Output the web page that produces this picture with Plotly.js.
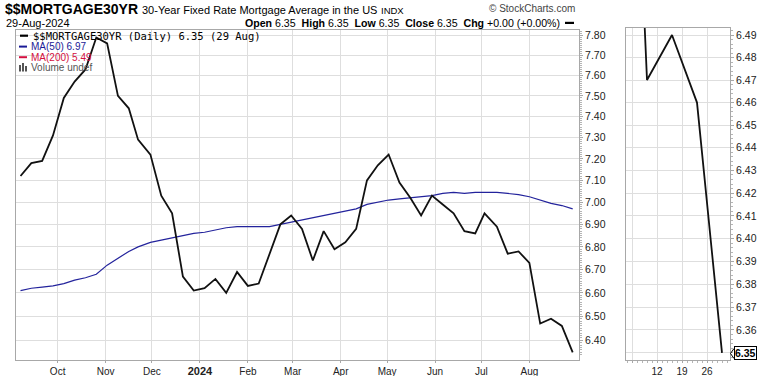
<!DOCTYPE html>
<html>
<head>
<meta charset="utf-8">
<script src="https://cdn.plot.ly/plotly-3.0.1.min.js"></script>
<style>html,body{margin:0;padding:0;background:#fff;}#chart{width:770px;height:376px;}</style>
</head>
<body>
<div id="chart"></div>
<script>
// ---- data ----
const weekDates = ['2023-09-07','2023-09-14','2023-09-21','2023-09-28','2023-10-05','2023-10-12','2023-10-19','2023-10-26',
 '2023-11-02','2023-11-09','2023-11-16','2023-11-22','2023-11-30','2023-12-07','2023-12-14','2023-12-21','2023-12-28',
 '2024-01-04','2024-01-11','2024-01-18','2024-01-25','2024-02-01','2024-02-08','2024-02-15','2024-02-22','2024-02-29',
 '2024-03-07','2024-03-14','2024-03-21','2024-03-28','2024-04-04','2024-04-11','2024-04-18','2024-04-25',
 '2024-05-02','2024-05-09','2024-05-16','2024-05-23','2024-05-30','2024-06-06','2024-06-13','2024-06-20','2024-06-27',
 '2024-07-03','2024-07-11','2024-07-18','2024-07-25','2024-08-01','2024-08-08','2024-08-15','2024-08-22','2024-08-29'];
const rate30yr = [7.12,7.18,7.19,7.31,7.49,7.57,7.63,7.79,
 7.76,7.50,7.44,7.29,7.22,7.03,6.95,6.67,6.61,
 6.62,6.66,6.60,6.69,6.63,6.64,6.77,6.90,6.94,
 6.88,6.74,6.87,6.79,6.82,6.88,7.10,7.17,
 7.22,7.09,7.02,6.94,7.03,6.99,6.95,6.87,6.86,
 6.95,6.89,6.77,6.78,6.73,6.47,6.49,6.46,6.35];
const ma50 = [6.61,6.62,6.625,6.63,6.64,6.655,6.665,6.68,
 6.72,6.75,6.78,6.80,6.82,6.83,6.84,6.85,6.86,
 6.865,6.875,6.885,6.89,6.89,6.89,6.89,6.90,6.91,
 6.92,6.93,6.94,6.95,6.96,6.97,6.99,7.00,
 7.01,7.015,7.02,7.025,7.03,7.04,7.045,7.04,7.045,
 7.045,7.045,7.04,7.035,7.025,7.01,6.995,6.985,6.97];
const monthTicks = ['2023-10-01','2023-11-01','2023-12-01','2024-01-01','2024-02-01','2024-03-01','2024-04-01','2024-05-01','2024-06-01','2024-07-01','2024-08-01'];
const monthLabels = ['Oct','Nov','Dec','<span style="font-weight:bold;font-size:11px">2024</span>','Feb','Mar','Apr','May','Jun','Jul','Aug'];
const yTicks = [6.40,6.50,6.60,6.70,6.80,6.90,7.00,7.10,7.20,7.30,7.40,7.50,7.60,7.70,7.80];
const zoomDayTicks = ['2024-08-05','2024-08-12','2024-08-19','2024-08-26'];
const zoomDayLabels = ['','12','19','26'];
const zoomYTicks = [6.35,6.36,6.37,6.38,6.39,6.40,6.41,6.42,6.43,6.44,6.45,6.46,6.47,6.48,6.49];
const lastValue = 6.35;

// ---- helpers ----
const W = 770, H = 376;
const px = x => x / W;
const py = y => 1 - y / H;
const minorMain = []; for (let i = 634; i <= 782; i++) minorMain.push(i / 100);
const minorZoom = []; for (let i = 6346; i <= 6494; i += 2) minorZoom.push(i / 1000);

const traces = [
  {x: weekDates, y: ma50, xaxis:'x', yaxis:'y', mode:'lines', line:{color:'#23239c', width:1.2}, hoverinfo:'skip'},
  {x: weekDates, y: rate30yr, xaxis:'x', yaxis:'y', mode:'lines', line:{color:'#111', width:1.8}, hoverinfo:'skip'},
  {x: weekDates, y: rate30yr, xaxis:'x2', yaxis:'y2', mode:'lines', line:{color:'#111', width:1.8}, hoverinfo:'skip'}
];

const axCommon = {showgrid:true, gridcolor:'#dedede', gridwidth:1, showline:true, mirror:true, linecolor:'#a8a8a8', linewidth:1,
  zeroline:false, fixedrange:true, tickfont:{size:10.5, color:'#222'}, tickcolor:'#a8a8a8'};

const layout = {
  width: W, height: H, margin:{l:0, r:0, t:0, b:0},
  paper_bgcolor:'#fff', plot_bgcolor:'#fff', showlegend:false,
  font:{family:'"Liberation Sans", Arial, sans-serif', size:10, color:'#000'},
  xaxis: Object.assign({}, axCommon, {type:'date', domain:[px(16), px(579)], anchor:'y',
    range:['2023-09-04 02:00','2024-09-02 02:00'], tickmode:'array', tickvals:monthTicks, ticktext:monthLabels,
    ticks:'outside', ticklen:2, tickfont:{size:10, color:'#222'}}),
  yaxis: Object.assign({}, axCommon, {type:'log', domain:[py(360), py(30)], anchor:'x', side:'right',
    range:[0.800627, 0.893645], tickmode:'array', tickvals:yTicks, ticktext:yTicks.map(v => v.toFixed(2)),
    ticks:'outside', ticklen:3,
    minor:{tickmode:'array', tickvals:minorMain, ticks:'outside', ticklen:2, tickcolor:'#b5b5b5', showgrid:false}}),
  xaxis2: Object.assign({}, axCommon, {type:'date', domain:[px(626), px(730)], anchor:'y2',
    range:['2024-08-01 19:12','2024-08-30 14:24'], rangebreaks:[{bounds:['sat','mon']}],
    tickmode:'array', tickvals:zoomDayTicks, ticktext:zoomDayLabels, ticks:'outside', ticklen:2,
    tickfont:{size:10, color:'#222'},
    minor:{dtick:86400000, ticks:'outside', ticklen:2, tickcolor:'#b5b5b5', showgrid:false}}),
  yaxis2: Object.assign({}, axCommon, {type:'log', domain:[py(360), py(28)], anchor:'x2', side:'right',
    range:[0.802563, 0.812454], tickmode:'array', tickvals:zoomYTicks,
    ticktext:zoomYTicks.map(v => v === lastValue ? '' : v.toFixed(2)), ticks:'outside', ticklen:3,
    minor:{tickmode:'array', tickvals:minorZoom, ticks:'outside', ticklen:2, tickcolor:'#b5b5b5', showgrid:false}}),
  annotations: [
    {text:'<b>$$MORTGAGE30YR</b>', x:px(3), y:py(9.5), font:{size:14}},
    {text:'30-Year Fixed Rate Mortgage Average in the US', x:px(140), y:py(10), font:{size:11}},
    {text:'INDX', x:px(379), y:py(10.5), font:{size:9.5}},
    {text:'© StockCharts.com', x:px(577), y:py(8.5), xanchor:'right', font:{size:10, color:'#444'}},
    {text:'29-Aug-2024', x:px(4), y:py(22.5), font:{size:11}},
    {text:'<b>Open</b> 6.35\u00a0 <b>High</b> 6.35\u00a0 <b>Low</b> 6.35\u00a0 <b>Close</b> 6.35\u00a0 <b>Chg</b> +0.00 (+0.00%)',
      x:px(562), y:py(22.5), xanchor:'right', font:{size:10.6}},
    {text:'$$MORTGAGE30YR (Daily) 6.35 (29 Aug)', x:px(31), y:py(35.7), font:{family:'"DejaVu Sans Mono", monospace', size:10.5}},
    {text:'MA(50) 6.97', x:px(29), y:py(46.7), font:{size:10, color:'#1a1a96'}},
    {text:'MA(200) 5.49', x:px(29), y:py(57.3), font:{size:10, color:'#d41040'}},
    {text:'Volume undef', x:px(29), y:py(67.7), font:{size:10, color:'#555'}},
    {text:'<b>6.35</b>', xref:'paper', yref:'y2', x:px(734), y:Math.log10(lastValue), xanchor:'left', yanchor:'middle',
      font:{size:10.5}, bordercolor:'#000', borderwidth:1, borderpad:0, bgcolor:'#fff'}
  ].map(a => Object.assign({xref:'paper', yref:'paper', xanchor:'left', yanchor:'middle', showarrow:false}, a)),
  shapes: [
    {type:'rect', xref:'paper', yref:'paper', x0:px(565), x1:px(574), y0:py(21.8), y1:py(24), fillcolor:'#000', line:{width:0}},
    {type:'rect', xref:'paper', yref:'paper', x0:px(20), x1:px(28), y0:py(34.6), y1:py(36.8), fillcolor:'#000', line:{width:0}},
    {type:'rect', xref:'paper', yref:'paper', x0:px(19), x1:px(27), y0:py(45.6), y1:py(47.6), fillcolor:'#1a1a96', line:{width:0}},
    {type:'rect', xref:'paper', yref:'paper', x0:px(19), x1:px(27), y0:py(56.2), y1:py(58.2), fillcolor:'#d41040', line:{width:0}},
    {type:'rect', xref:'paper', yref:'paper', x0:px(19), x1:px(21), y0:py(71.5), y1:py(65), fillcolor:'#555', line:{width:0}},
    {type:'rect', xref:'paper', yref:'paper', x0:px(22), x1:px(24), y0:py(71.5), y1:py(63), fillcolor:'#555', line:{width:0}},
    {type:'rect', xref:'paper', yref:'paper', x0:px(25), x1:px(27), y0:py(71.5), y1:py(66), fillcolor:'#555', line:{width:0}},
    {type:'path', xref:'paper', yref:'paper',
      path:'M'+px(734)+','+py(348.5)+' L'+px(730.5)+','+py(353.5)+' L'+px(734)+','+py(358.5),
      line:{color:'#000', width:1}}
  ]
};

Plotly.newPlot('chart', traces, layout, {staticPlot:true, displayModeBar:false});
</script>
</body>
</html>
